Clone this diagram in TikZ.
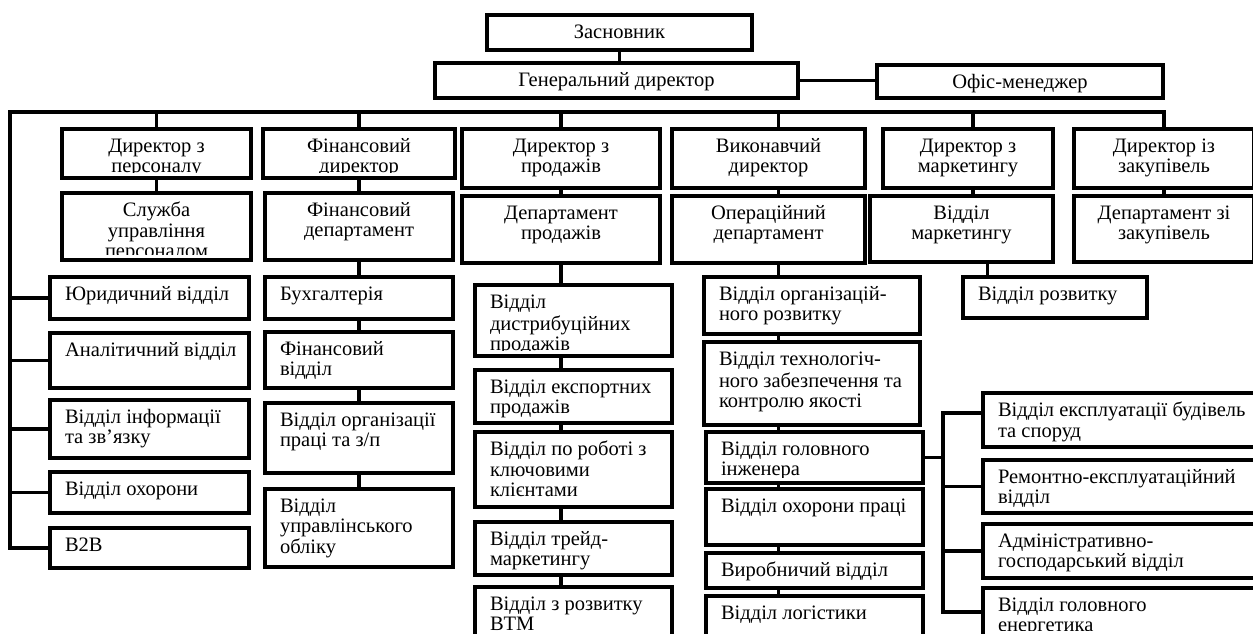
\documentclass[tikz,border=0pt]{standalone}
\usepackage{fontspec}
\setmainfont{Liberation Serif}
\tikzset{
  org/.style={draw, line width=3.2pt, inner sep=0pt, outer sep=0pt, rectangle},
  orgtxt/.style={inner sep=0pt, outer sep=0pt, font=\fontsize{20.5}{20.5}\selectfont},
  link/.style={line width=3.2pt},
}
\newcommand\orgbox[7]{%
  \node[org, minimum width={(#4-#2)*1pt}, minimum height={(#5-#3)*1pt}] (#1) at ({(#2+#4)/2},{(#3+#5)/2}) {};
  \begin{scope}
    \clip ([yshift=6pt]#1.south west) rectangle (#1.north east);
    \ifx l#6
      \node[orgtxt, anchor=north west, align=left] (#1t) at ([xshift=15pt,yshift=-9pt]#1.north west) {\strut #7};
    \else
      \node[orgtxt, anchor=north, align=center] (#1t) at ([yshift=-9pt]#1.north) {\strut #7};
    \fi
  \end{scope}}
\begin{document}
\begin{tikzpicture}[x=1pt, y=-1pt]
\useasboundingbox (0,0) rectangle (1253,633);
\clip (0,0) rectangle (1253,633);
% top
\orgbox{zas}{487}{15}{752}{50}{c}{Засновник}
\orgbox{gen}{435}{63}{798}{98}{c}{Генеральний директор}
\orgbox{ofis}{877}{65}{1163}{98}{c}{Офіс-менеджер}
% row 1
\orgbox{d1}{62}{129}{251}{178}{c}{Директор з\\персоналу}
\orgbox{d2}{263}{129}{455}{178}{c}{Фінансовий\\директор}
\orgbox{d3}{462}{129}{660}{188}{c}{Директор з\\продажів}
\orgbox{d4}{672}{129}{865}{188}{c}{Виконавчий\\директор}
\orgbox{d5}{883}{129}{1053}{188}{c}{Директор з\\маркетингу}
\orgbox{d6}{1074}{129}{1254}{188}{c}{Директор із\\закупівель}
% row 2
\orgbox{s1}{62}{193}{251}{260}{c}{Служба\\управління\\персоналом}
\orgbox{s2}{265}{193}{453}{260}{c}{Фінансовий\\департамент}
\orgbox{s3}{462}{196}{660}{263}{c}{Департамент\\продажів}
\orgbox{s4}{672}{196}{865}{263}{c}{Операційний\\департамент}
\orgbox{s5}{870}{196}{1053}{262}{c}{Відділ\\маркетингу}
\orgbox{s6}{1074}{196}{1254}{262}{c}{Департамент зі\\закупівель}
% left column
\orgbox{l1}{50}{277}{249}{319}{l}{Юридичний відділ}
\orgbox{l2}{50}{333}{249}{388}{l}{Аналітичний відділ}
\orgbox{l3}{50}{400}{249}{458}{l}{Відділ інформації\\та зв’язку}
\orgbox{l4}{50}{472}{249}{513}{l}{Відділ охорони}
\orgbox{l5}{50}{528}{249}{568}{l}{B2B}
% finance column
\orgbox{f1}{265}{277}{453}{319}{l}{Бухгалтерія}
\orgbox{f2}{265}{332}{453}{388}{l}{Фінансовий\\відділ}
\orgbox{f3}{265}{403}{453}{473}{l}{Відділ організації\\праці та з/п}
\orgbox{f4}{265}{489}{453}{567}{l}{Відділ\\управлінського\\обліку}
% sales column
\orgbox{p1}{475}{285}{672}{356}{l}{Відділ\\дистрибуційних\\продажів}
\orgbox{p2}{475}{370}{672}{423}{l}{Відділ експортних\\продажів}
\orgbox{p3}{475}{432}{672}{507}{l}{Відділ по роботі з\\ключовими\\клієнтами}
\orgbox{p4}{475}{522}{672}{575}{l}{Відділ трейд-\\маркетингу}
\orgbox{p5}{475}{587}{672}{660}{l}{Відділ з розвитку\\BTM}
% operations column
\orgbox{o1}{704}{277}{920}{334}{l}{Відділ організацій-\\ного розвитку}
\orgbox{o2}{704}{342}{920}{425}{l}{Відділ технологіч-\\ного забезпечення та\\контролю якості}
\orgbox{o3}{706}{432}{923}{483}{l}{Відділ головного\\інженера}
\orgbox{o4}{706}{489}{923}{545}{l}{Відділ охорони праці}
\orgbox{o5}{706}{553}{923}{588}{l}{Виробничий відділ}
\orgbox{o6}{706}{596}{923}{660}{l}{Відділ логістики}
% marketing
\orgbox{vr}{963}{277}{1147}{318}{l}{Відділ розвитку}
% right column
\orgbox{e1}{983}{393}{1260}{447}{l}{Відділ експлуатації будівель\\та споруд}
\orgbox{e2}{983}{460}{1260}{513}{l}{Ремонтно-експлуатаційний\\відділ}
\orgbox{e3}{983}{524}{1260}{578}{l}{Адміністративно-\\господарський відділ}
\orgbox{e4}{983}{588}{1260}{636}{l}{Відділ головного\\енергетика}
% connectors
\draw[link] (zas.south) -- (zas.south |- gen.north);
\draw[link] (gen.east) -- (gen.east -| ofis.west);
\coordinate (busL) at (10,112);
\coordinate (busR) at (1164,112);
\draw[link, line cap=rect] (busL) -- (busR);
\draw[link] (busL -| d1.north) -- (d1.north);
\draw[link] (busL -| d2.north) -- (d2.north);
\draw[link] (busL -| d3.north) -- (d3.north);
\draw[link] ([xshift=10pt]d4.north |- busL) -- ([xshift=10pt]d4.north);
\draw[link] ([xshift=5pt]d5.north |- busL) -- ([xshift=5pt]d5.north);
\draw[link] (busR) -- (busR |- d6.north);
\draw[link] (d1.south) -- (d1.south |- s1.north);
\draw[link] (d2.south) -- (d2.south |- s2.north);
\draw[link] (d3.south) -- (d3.south |- s3.north);
\draw[link] ([xshift=10pt]d4.south) -- ([xshift=10pt]d4.south |- s4.north);
\draw[link] ([xshift=5pt]d5.south) -- ([xshift=5pt]d5.south |- s5.north);
\draw[link] (busR |- d6.south) -- (busR |- s6.north);
% left spine
\draw[link] (busL) |- (l5.west);
\foreach \n in {l1,l2,l3,l4} \draw[link] (busL |- \n.west) -- (\n.west);
% finance chain
\draw[link] (s2.south) -- (s2.south |- f1.north);
\draw[link] (f1.south) -- (f1.south |- f2.north);
\draw[link] (f2.south) -- (f2.south |- f3.north);
\draw[link] (f3.south) -- (f3.south |- f4.north);
% sales chain
\draw[link] (s3.south) -- (s3.south |- p1.north);
\draw[link] (s3.south |- p1.south) -- (s3.south |- p2.north);
\draw[link] (s3.south |- p2.south) -- (s3.south |- p3.north);
\draw[link] (s3.south |- p3.south) -- (s3.south |- p4.north);
\draw[link] (s3.south |- p4.south) -- (s3.south |- p5.north);
% operations chain
\coordinate (c4) at ([xshift=10pt]s4.south);
\draw[link] (c4) -- (c4 |- o1.north);
\draw[link] (c4 |- o1.south) -- (c4 |- o2.north);
\draw[link] (c4 |- o2.south) -- (c4 |- o3.north);
\draw[link] (c4 |- o3.south) -- (c4 |- o4.north);
\draw[link] (c4 |- o4.south) -- (c4 |- o5.north);
\draw[link] (c4 |- o5.south) -- (c4 |- o6.north);
% marketing -> development
\draw[link] ([xshift=26pt]s5.south) -- ([xshift=26pt]s5.south |- vr.north);
% chief engineer branch
\coordinate (cr) at (943,0);
\draw[link] (o3.east) -- (o3.east -| cr);
\draw[link, line cap=rect] ([yshift=7pt]cr |- e1.west) -- (cr |- e4.west);
\draw[link] ([yshift=7pt]cr |- e1.west) -- ([yshift=7pt]e1.west);
\draw[link] (cr |- e2.west) -- (e2.west);
\draw[link] (cr |- e3.west) -- (e3.west);
\draw[link] (cr |- e4.west) -- (e4.west);
\end{tikzpicture}
\end{document}
